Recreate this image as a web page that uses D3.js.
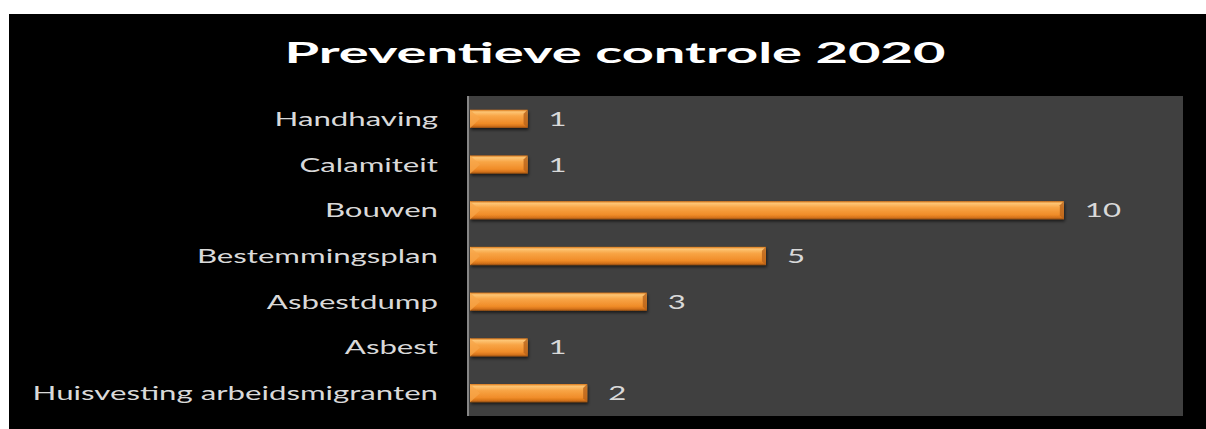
<!DOCTYPE html>
<html>
<head>
<meta charset="utf-8">
<script src="https://cdn.jsdelivr.net/npm/d3@7"></script>
<style>
  body { margin: 0; background: #fff; }
  svg text { font-family: Lato, "Open Sans", sans-serif; }
</style>
</head>
<body>
<div id="chart"></div>
<script>
var categories = ["Handhaving", "Calamiteit", "Bouwen", "Bestemmingsplan", "Asbestdump", "Asbest", "Huisvesting arbeidsmigranten"];
var values = [1, 1, 10, 5, 3, 1, 2];
var title = "Preventieve controle 2020";

var data = categories.map(function(c, i) { return {cat: c, val: values[i]}; });

var W = 1206, H = 429;
var plot = {left: 468, top: 96, right: 1183, bottom: 416};
var sx = 1.6;       // horizontal stretch of the picture
var titleSx = 1.9;

var svg = d3.select("#chart").append("svg")
  .attr("width", W)
  .attr("height", H);

var defs = svg.append("defs");
var grad = defs.append("linearGradient")
  .attr("id", "barGrad")
  .attr("x1", 0).attr("y1", 0).attr("x2", 0).attr("y2", 1);
grad.append("stop").attr("offset", "0%").attr("stop-color", "#d87618");
grad.append("stop").attr("offset", "12%").attr("stop-color", "#fdc574");
grad.append("stop").attr("offset", "35%").attr("stop-color", "#f8a546");
grad.append("stop").attr("offset", "75%").attr("stop-color", "#f08c28");
grad.append("stop").attr("offset", "90%").attr("stop-color", "#d4721a");
grad.append("stop").attr("offset", "100%").attr("stop-color", "#8e4c12");

var shadow = defs.append("filter").attr("id", "shadow")
  .attr("x", "-5%").attr("y", "-30%").attr("width", "115%").attr("height", "180%");
shadow.append("feDropShadow")
  .attr("dx", 1).attr("dy", 2).attr("stdDeviation", 1.5)
  .attr("flood-color", "#000").attr("flood-opacity", 0.6);

// black background with white border
svg.append("rect")
  .attr("x", 9).attr("y", 14)
  .attr("width", W - 9).attr("height", H - 14)
  .attr("fill", "#000");

// plot area
svg.append("rect")
  .attr("x", plot.left).attr("y", plot.top)
  .attr("width", plot.right - plot.left)
  .attr("height", plot.bottom - plot.top)
  .attr("fill", "#404040");

var x = d3.scaleLinear().domain([0, 12]).range([plot.left, plot.right]);
var y = d3.scaleBand()
  .domain(categories)
  .range([plot.top, plot.bottom])
  .paddingInner(0.6)
  .paddingOuter(0.3);

// title
svg.append("text")
  .attr("transform", "translate(615,63) scale(" + titleSx + ",1)")
  .attr("text-anchor", "middle")
  .attr("font-weight", "bold")
  .attr("font-size", 29.5)
  .attr("fill", "#fff")
  .text(title);

// bars
var bar = svg.selectAll(".bar")
  .data(data)
  .enter()
  .append("g")
  .attr("class", "bar");

bar.append("rect")
  .attr("x", x(0) + 2)
  .attr("y", function(d) { return y(d.cat); })
  .attr("width", function(d) { return x(d.val) - x(0) - 2; })
  .attr("height", y.bandwidth())
  .attr("fill", "url(#barGrad)")
  .attr("filter", "url(#shadow)");

// bevel on the ends
var bev = 4;
bar.append("path")
  .attr("d", function(d) {
    var x0 = x(0) + 2, y0 = y(d.cat), h = y.bandwidth();
    return "M" + x0 + "," + y0 + "L" + (x0 + h * 0.55) + "," + (y0 + h / 2) +
      "L" + x0 + "," + (y0 + h) + "Z";
  })
  .attr("fill", "#f7a54a")
  .attr("opacity", 0.75);
bar.append("path")
  .attr("d", function(d) {
    var x1 = x(d.val), y0 = y(d.cat), h = y.bandwidth();
    return "M" + x1 + "," + y0 + "L" + (x1 - bev) + "," + (y0 + bev) +
      "L" + (x1 - bev) + "," + (y0 + h - bev) + "L" + x1 + "," + (y0 + h) + "Z";
  })
  .attr("fill", "#b8631a")
  .attr("opacity", 0.8);

// value labels
bar.append("text")
  .attr("transform", function(d) {
    return "translate(" + (x(d.val) + 21) + "," + (y(d.cat) + y.bandwidth() / 2 + 7) + ") scale(" + sx + ",1)";
  })
  .attr("font-size", 19.5)
  .attr("fill", "#d9d9d9")
  .text(function(d) { return d.val; });

// category axis
svg.append("line")
  .attr("x1", plot.left).attr("x2", plot.left)
  .attr("y1", plot.top).attr("y2", plot.bottom)
  .attr("stroke", "#868686")
  .attr("stroke-width", 2);

svg.selectAll(".cat")
  .data(categories)
  .enter()
  .append("text")
  .attr("class", "cat")
  .attr("transform", function(d) {
    return "translate(438," + (y(d) + y.bandwidth() / 2 + 7) + ") scale(" + sx + ",1)";
  })
  .attr("text-anchor", "end")
  .attr("font-size", 19.5)
  .attr("fill", "#d9d9d9")
  .text(function(d) { return d; });
</script>
</body>
</html>
